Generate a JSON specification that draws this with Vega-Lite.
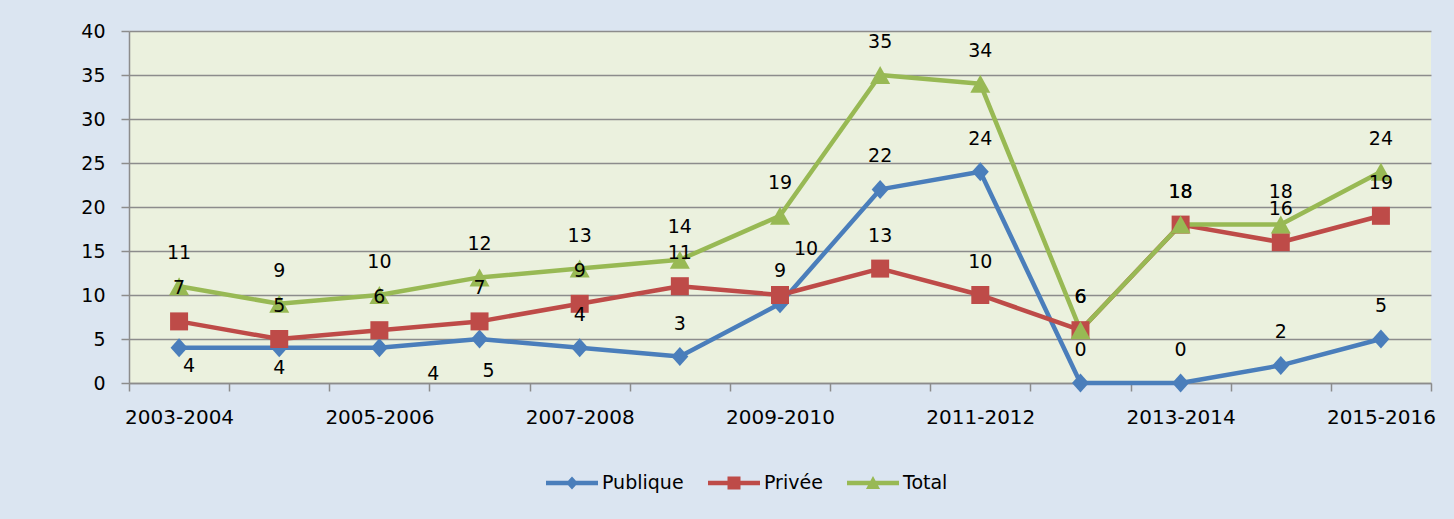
{
  "$schema": "https://vega.github.io/schema/vega-lite/v6.json",
  "width": 1302,
  "height": 352,
  "autosize": {"type": "none"},
  "padding": {"left": 129, "top": 31, "right": 23, "bottom": 136},
  "background": "#dbe5f1",
  "config": {
    "view": {"stroke": null, "fill": "#ebf1de"},
    "font": "DejaVu Sans",
    "axis": {"labelFont": "DejaVu Sans", "labelFontSize": 19, "labelColor": "#000000", "domainColor": "#8c8c8c", "domainWidth": 1.5, "tickColor": "#8c8c8c", "tickWidth": 1.5, "tickSize": 8, "title": null},
    "text": {"font": "DejaVu Sans", "fontSize": 19, "color": "#000000"}
  },
  "data": {"values": [
    {"year": "2003-2004", "series": "Publique", "value": 4},
    {"year": "2004-2005", "series": "Publique", "value": 4},
    {"year": "2005-2006", "series": "Publique", "value": 4},
    {"year": "2006-2007", "series": "Publique", "value": 5},
    {"year": "2007-2008", "series": "Publique", "value": 4},
    {"year": "2008-2009", "series": "Publique", "value": 3},
    {"year": "2009-2010", "series": "Publique", "value": 9},
    {"year": "2010-2011", "series": "Publique", "value": 22},
    {"year": "2011-2012", "series": "Publique", "value": 24},
    {"year": "2012-2013", "series": "Publique", "value": 0},
    {"year": "2013-2014", "series": "Publique", "value": 0},
    {"year": "2014-2015", "series": "Publique", "value": 2},
    {"year": "2015-2016", "series": "Publique", "value": 5},
    {"year": "2003-2004", "series": "Privée", "value": 7},
    {"year": "2004-2005", "series": "Privée", "value": 5},
    {"year": "2005-2006", "series": "Privée", "value": 6},
    {"year": "2006-2007", "series": "Privée", "value": 7},
    {"year": "2007-2008", "series": "Privée", "value": 9},
    {"year": "2008-2009", "series": "Privée", "value": 11},
    {"year": "2009-2010", "series": "Privée", "value": 10},
    {"year": "2010-2011", "series": "Privée", "value": 13},
    {"year": "2011-2012", "series": "Privée", "value": 10},
    {"year": "2012-2013", "series": "Privée", "value": 6},
    {"year": "2013-2014", "series": "Privée", "value": 18},
    {"year": "2014-2015", "series": "Privée", "value": 16},
    {"year": "2015-2016", "series": "Privée", "value": 19},
    {"year": "2003-2004", "series": "Total", "value": 11},
    {"year": "2004-2005", "series": "Total", "value": 9},
    {"year": "2005-2006", "series": "Total", "value": 10},
    {"year": "2006-2007", "series": "Total", "value": 12},
    {"year": "2007-2008", "series": "Total", "value": 13},
    {"year": "2008-2009", "series": "Total", "value": 14},
    {"year": "2009-2010", "series": "Total", "value": 19},
    {"year": "2010-2011", "series": "Total", "value": 35},
    {"year": "2011-2012", "series": "Total", "value": 34},
    {"year": "2012-2013", "series": "Total", "value": 6},
    {"year": "2013-2014", "series": "Total", "value": 18},
    {"year": "2014-2015", "series": "Total", "value": 18},
    {"year": "2015-2016", "series": "Total", "value": 24}
  ]},
  "encoding": {
    "x": {
      "field": "year", "type": "ordinal",
      "scale": {"domain": ["2003-2004","2004-2005","2005-2006","2006-2007","2007-2008","2008-2009","2009-2010","2010-2011","2011-2012","2012-2013","2013-2014","2014-2015","2015-2016"], "paddingInner": 0, "paddingOuter": 0},
      "axis": {"tickBand": "extent", "labelAngle": 0, "labelFontSize": 20, "labelPadding": 16, "labelOverlap": false, "grid": false, "title": null,
        "labelExpr": "indexof(['2003-2004','2005-2006','2007-2008','2009-2010','2011-2012','2013-2014','2015-2016'], datum.value) >= 0 ? datum.label : ''"}
    },
    "y": {
      "field": "value", "type": "quantitative",
      "scale": {"domain": [0, 40], "nice": false},
      "axis": {"values": [0, 5, 10, 15, 20, 25, 30, 35, 40], "grid": true, "gridColor": "#8c8c8c", "gridWidth": 1.5, "labelPadding": 16, "title": null}
    }
  },
  "layer": [
    {
      "mark": {"type": "line", "strokeWidth": 4.5, "strokeCap": "round", "strokeJoin": "round"},
      "encoding": {
        "color": {"field": "series", "type": "nominal", "scale": {"domain": ["Publique", "Privée", "Total"], "range": ["#4a7ebb", "#be4b48", "#98b954"]}, "legend": null}
      }
    },
    {
      "mark": {"type": "point", "filled": true, "opacity": 1, "size": 400, "strokeWidth": 0},
      "encoding": {
        "color": {"field": "series", "type": "nominal", "scale": {"domain": ["Publique", "Privée", "Total"], "range": ["#4a7ebb", "#be4b48", "#98b954"]}, "legend": null},
        "shape": {"field": "series", "type": "nominal", "scale": {"domain": ["Publique", "Privée", "Total"], "range": ["M0,-0.95L0.85,0L0,0.95L-0.85,0Z", "M-0.9,-0.9L0.9,-0.9L0.9,0.9L-0.9,0.9Z", "M0,-0.9L1,0.9L-1,0.9Z"]}, "legend": null}
      }
    },
    {
      "mark": {"type": "point", "filled": true, "opacity": 0, "size": 2704, "strokeWidth": 0},
      "encoding": {
        "color": {"field": "series", "type": "nominal", "scale": {"domain": ["Publique", "Privée", "Total"], "range": ["#4a7ebb", "#be4b48", "#98b954"]},
          "legend": {"title": null, "orient": "none", "legendX": 417, "legendY": 426, "direction": "horizontal", "symbolSize": 2704, "symbolStrokeWidth": 0, "symbolOpacity": 1, "labelFont": "DejaVu Sans", "labelFontSize": 19, "labelColor": "#000000", "labelOffset": 4, "columnPadding": 24, "padding": 0}},
        "shape": {"field": "series", "type": "nominal", "scale": {"domain": ["Publique", "Privée", "Total"], "range": ["M-1,-0.09L1,-0.09L1,0.09L-1,0.09ZM0,-0.25L0.23,0L0,0.25L-0.23,0Z", "M-1,-0.09L1,-0.09L1,0.09L-1,0.09ZM-0.25,-0.25L0.25,-0.25L0.25,0.25L-0.25,0.25Z", "M-1,-0.09L1,-0.09L1,0.09L-1,0.09ZM0,-0.27L0.27,0.23L-0.27,0.23Z"]},
          "legend": {"title": null, "orient": "none", "legendX": 417, "legendY": 426, "direction": "horizontal", "symbolSize": 2704, "symbolStrokeWidth": 0, "symbolOpacity": 1, "labelFont": "DejaVu Sans", "labelFontSize": 19, "labelColor": "#000000", "labelOffset": 4, "columnPadding": 24, "padding": 0}}
      }
    },
    {
      "transform": [{"filter": "!(datum.series === 'Publique' && indexof(['2003-2004','2004-2005','2005-2006','2006-2007'], datum.year) >= 0) && !(datum.series === 'Privée' && datum.year === '2009-2010')"}],
      "mark": {"type": "text", "align": "center", "baseline": "middle", "dy": -33},
      "encoding": {"text": {"field": "value", "type": "quantitative"}}
    },
    {
      "transform": [{"filter": "datum.series === 'Publique' && datum.year === '2003-2004'"}],
      "mark": {"type": "text", "align": "center", "baseline": "middle", "dx": 10, "dy": 18},
      "encoding": {"text": {"field": "value", "type": "quantitative"}}
    },
    {
      "transform": [{"filter": "datum.series === 'Publique' && datum.year === '2004-2005'"}],
      "mark": {"type": "text", "align": "center", "baseline": "middle", "dx": 0, "dy": 20},
      "encoding": {"text": {"field": "value", "type": "quantitative"}}
    },
    {
      "transform": [{"filter": "datum.series === 'Publique' && datum.year === '2005-2006'"}],
      "mark": {"type": "text", "align": "center", "baseline": "middle", "dx": 54, "dy": 26},
      "encoding": {"text": {"field": "value", "type": "quantitative"}}
    },
    {
      "transform": [{"filter": "datum.series === 'Publique' && datum.year === '2006-2007'"}],
      "mark": {"type": "text", "align": "center", "baseline": "middle", "dx": 9, "dy": 32},
      "encoding": {"text": {"field": "value", "type": "quantitative"}}
    },
    {
      "transform": [{"filter": "datum.series === 'Privée' && datum.year === '2009-2010'"}],
      "mark": {"type": "text", "align": "center", "baseline": "middle", "dx": 26, "dy": -46},
      "encoding": {"text": {"field": "value", "type": "quantitative"}}
    }
  ],
  "resolve": {"scale": {"shape": "independent"}, "legend": {"color": "independent", "shape": "independent"}}
}
